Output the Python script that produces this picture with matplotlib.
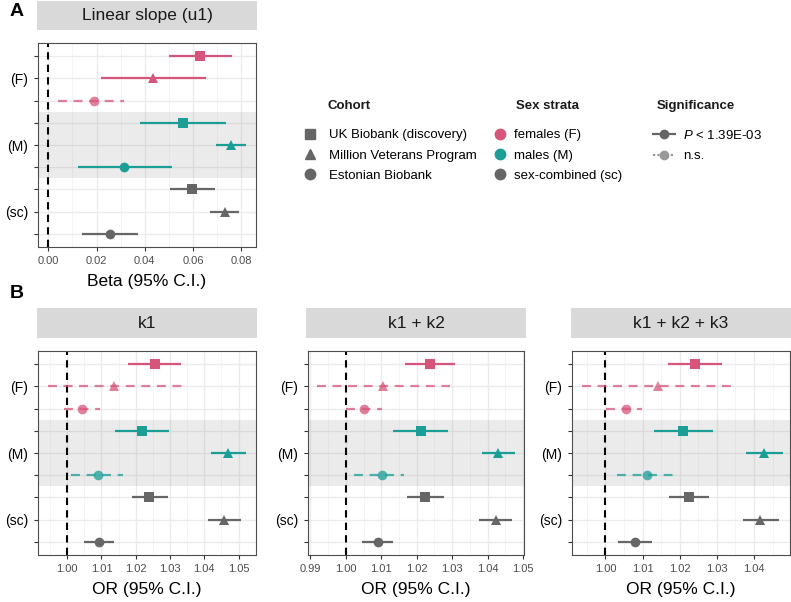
import numpy as np
import matplotlib
matplotlib.use("Agg")
import matplotlib.pyplot as plt
from matplotlib.lines import Line2D
from matplotlib.ticker import MultipleLocator

plt.rcParams['font.family'] = ['Liberation Sans', 'DejaVu Sans']
plt.rcParams['mathtext.fontset'] = 'custom'
plt.rcParams['mathtext.it'] = 'Liberation Sans:italic'
plt.rcParams['mathtext.rm'] = 'Liberation Sans'

W, H = 791, 602

# rows top -> bottom: F (UKB, MVP, EB), M (UKB, MVP, EB), sc (UKB, MVP, EB)
strata = ["F"] * 3 + ["M"] * 3 + ["sc"] * 3
cohorts = ["UKB", "MVP", "EB"] * 3

# panel A: linear slope (u1)
u1_est = [0.0631, 0.0436, 0.0188, 0.0559, 0.0757, 0.0316, 0.0598, 0.0732, 0.0256]
u1_lo = [0.0502, 0.0219, 0.0042, 0.0381, 0.0695, 0.0122, 0.0505, 0.0673, 0.0140]
u1_hi = [0.0761, 0.0653, 0.0314, 0.0739, 0.0819, 0.0512, 0.0692, 0.0792, 0.0371]
u1_sig = [1, 1, 0, 1, 1, 1, 1, 1, 1]

# panel B: odds ratios
k1_est = [1.0257, 1.0137, 1.0043, 1.0217, 1.0470, 1.0090, 1.0240, 1.0457, 1.0092]
k1_lo = [1.0179, 0.9943, 0.9990, 1.0139, 1.0420, 1.0011, 1.0188, 1.0411, 1.0049]
k1_hi = [1.0331, 1.0335, 1.0096, 1.0297, 1.0521, 1.0162, 1.0295, 1.0506, 1.0137]

k12_est = [1.0238, 1.0105, 1.0050, 1.0211, 1.0429, 1.0101, 1.0224, 1.0423, 1.0091]
k12_lo = [1.0168, 0.9919, 1.0000, 1.0134, 1.0384, 1.0022, 1.0172, 1.0377, 1.0046]
k12_hi = [1.0308, 1.0293, 1.0101, 1.0289, 1.0477, 1.0165, 1.0277, 1.0470, 1.0133]

k123_est = [1.0241, 1.0141, 1.0055, 1.0210, 1.0428, 1.0113, 1.0225, 1.0417, 1.0080]
k123_lo = [1.0168, 0.9936, 1.0002, 1.0130, 1.0378, 1.0030, 1.0170, 1.0370, 1.0034]
k123_hi = [1.0315, 1.0350, 1.0098, 1.0291, 1.0477, 1.0197, 1.0278, 1.0467, 1.0126]

or_sig = [1, 0, 0, 1, 1, 0, 1, 1, 1]

cohort_labels = ["UK Biobank (discovery)", "Million Veterans Program", "Estonian Biobank"]
sex_labels = ["females (F)", "males (M)", "sex-combined (sc)"]
sig_labels = ["$P$ < 1.39E-03", "n.s."]

colors = {"F": "#D6557A", "M": "#1B9E96", "sc": "#666666"}
markers = {"UKB": "s", "MVP": "^", "EB": "o"}


def box(l, t, r, b):
    return [l / W, 1 - b / H, (r - l) / W, (b - t) / H]


fig = plt.figure(figsize=(W / 100, H / 100), dpi=100)


def strip(rect, text):
    sa = fig.add_axes(box(*rect))
    sa.set_facecolor("#D9D9D9")
    sa.set_xticks([])
    sa.set_yticks([])
    for s in sa.spines.values():
        s.set_visible(False)
    sa.text(0.5, 0.5, text, ha="center", va="center", fontsize=12.5, color="#1A1A1A")


def forest(rect, est, lo, hi, sig, ref, xlim, major, xlabel):
    ax = fig.add_axes(box(*rect))
    n = len(est)
    ys = np.arange(n, 0, -1)
    ax.set_xlim(*xlim)
    ax.set_ylim(0.4, n + 0.6)
    ax.xaxis.set_major_locator(MultipleLocator(major))
    ax.xaxis.set_minor_locator(MultipleLocator(major / 2))
    ax.set_yticks(ys)
    ax.set_yticklabels(["", "(F)", "", "", "(M)", "", "", "(sc)", ""])
    ax.grid(True, which="major", color="#EBEBEB", lw=1.0, zorder=0)
    ax.grid(True, which="minor", axis="x", color="#F2F2F2", lw=0.6, zorder=0)
    ax.set_axisbelow(True)
    ax.axhspan(3.5, 6.5, color="#7F7F7F", alpha=0.15, lw=0, zorder=1)
    ax.axvline(ref, color="black", ls=(0, (3.5, 2.5)), lw=1.5, zorder=2)
    for i in range(n):
        c = colors[strata[i]]
        if sig[i]:
            ax.plot([lo[i], hi[i]], [ys[i], ys[i]], color=c, lw=1.6, zorder=3,
                    solid_capstyle="butt")
            ax.plot(est[i], ys[i], marker=markers[cohorts[i]], color=c, ms=7, mew=0, zorder=4)
        else:
            ax.plot([lo[i], hi[i]], [ys[i], ys[i]], color=c, lw=1.6, alpha=0.75, zorder=3,
                    ls=(0, (4, 3)), dash_capstyle="butt")
            ax.plot(est[i], ys[i], marker=markers[cohorts[i]], color=c, ms=7, mew=0,
                    alpha=0.75, zorder=4)
    for s in ax.spines.values():
        s.set_color("#4D4D4D")
        s.set_linewidth(0.8)
    ax.tick_params(axis="x", which="major", labelsize=8, labelcolor="#4D4D4D",
                   color="#333333", length=3, width=0.8)
    ax.tick_params(axis="x", which="minor", length=0)
    ax.tick_params(axis="y", labelsize=10, labelcolor="black", color="#333333",
                   length=3, width=0.8, pad=4)
    ax.xaxis.set_major_formatter(plt.FuncFormatter(lambda v, p: f"{v:.2f}"))
    ax.set_xlabel(xlabel, fontsize=12.5, labelpad=6)
    return ax


# panel A
strip((37, 1, 257, 30), "Linear slope (u1)")
forest((38, 43, 256, 247), u1_est, u1_lo, u1_hi, u1_sig, 0.0,
       (-0.0043, 0.0862), 0.02, "Beta (95% C.I.)")

# panel B
strip((37, 308, 257, 338), "k1")
forest((38, 351, 256, 555), k1_est, k1_lo, k1_hi, or_sig, 1.0,
       (0.9915, 1.0551), 0.01, "OR (95% C.I.)")
strip((306, 308, 526, 338), "k1 + k2")
forest((308, 351, 524, 555), k12_est, k12_lo, k12_hi, or_sig, 1.0,
       (0.9893, 1.0503), 0.01, "OR (95% C.I.)")
strip((571, 308, 791, 338), "k1 + k2 + k3")
forest((572, 351, 790, 555), k123_est, k123_lo, k123_hi, or_sig, 1.0,
       (0.9910, 1.0497), 0.01, "OR (95% C.I.)")

fig.text(10 / W, 1 - 12 / H, "A", fontsize=14, fontweight="bold", va="center")
fig.text(10 / W, 1 - 293 / H, "B", fontsize=14, fontweight="bold", va="center")

# legends (titles drawn separately)
fs = 9.5


def legend(handles, labels, x_handle, title, x_title, hl, htp):
    fig.legend(handles, labels, frameon=False, loc="upper left", fontsize=fs,
               bbox_to_anchor=(x_handle / W, 1 - 129 / H), borderaxespad=0,
               borderpad=0, handlelength=hl, handletextpad=htp, labelspacing=0.62)
    fig.text(x_title / W, 1 - 106 / H, title, fontsize=fs, fontweight="bold",
             color="#1A1A1A", va="center")


coh_handles = [Line2D([], [], ls="none", marker=markers[k], color="#666666", ms=7.5)
               for k in ["UKB", "MVP", "EB"]]
legend(coh_handles, cohort_labels, 302, "Cohort", 328, 1.2, 0.85)

sex_handles = [Line2D([], [], ls="none", marker="o", color=colors[k], ms=7.5)
               for k in ["F", "M", "sc"]]
legend(sex_handles, sex_labels, 492, "Sex strata", 516, 1.2, 0.5)

sig_handles = [Line2D([], [], ls="-", marker="o", color="#666666", ms=6, lw=1.6),
               Line2D([], [], ls=(0, (1, 1)), marker="o", color="#999999", ms=6, lw=1.6)]
legend(sig_handles, sig_labels, 653, "Significance", 657, 1.7, 0.6)

fig.savefig("out.png", dpi=100)
